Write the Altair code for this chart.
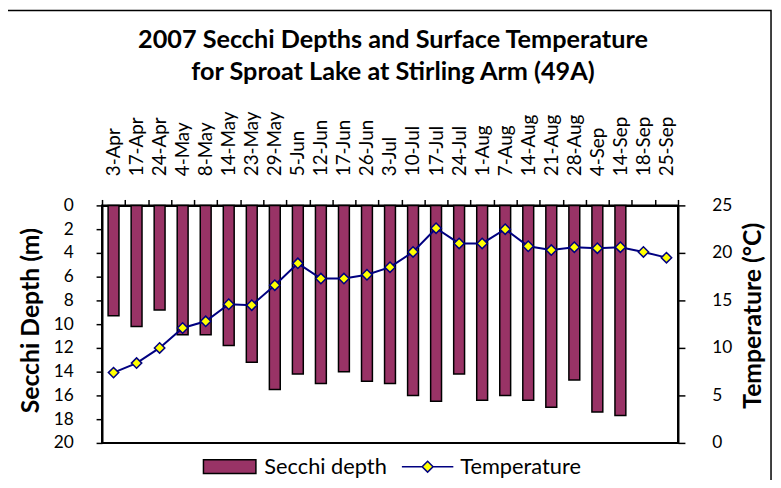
import altair as alt
import pandas as pd

dates = ["3-Apr", "17-Apr", "24-Apr", "4-May", "8-May", "14-May", "23-May", "29-May",
         "5-Jun", "12-Jun", "17-Jun", "26-Jun", "3-Jul", "10-Jul", "17-Jul", "24-Jul",
         "1-Aug", "7-Aug", "14-Aug", "21-Aug", "28-Aug", "4-Sep", "14-Sep", "18-Sep", "25-Sep"]
secchi = [9.3, 10.2, 8.8, 10.9, 10.9, 11.8, 13.2, 15.5, 14.2, 15.0, 14.0, 14.8, 15.0,
          16.0, 16.5, 14.2, 16.4, 16.0, 16.4, 17.0, 14.7, 17.4, 17.7, None, None]
temps = [7.4, 8.4, 10.0, 12.1, 12.8, 14.6, 14.5, 16.6, 18.9, 17.3, 17.3, 17.7, 18.5,
         20.1, 22.6, 21.0, 21.0, 22.5, 20.7, 20.3, 20.6, 20.5, 20.6, 20.1, 19.5]

df = pd.DataFrame({"date": dates, "depth": secchi, "temp": temps,
                   "s1": "Secchi depth", "s2": "Temperature"})

FONT = "Lato"
W, H = 582, 240

x_enc = alt.X("date:N", sort=dates, title=None,
              scale=alt.Scale(domain=dates, paddingInner=0, paddingOuter=0),
              axis=alt.Axis(orient="top", labelAngle=-90, labelFont=FONT, labelFontSize=19,
                            labelColor="black", tickBand="extent", tickSize=6, tickWidth=1.5,
                            tickColor="black", domainColor="black", domainWidth=2,
                            labelPadding=24))

bars = alt.Chart(df).mark_bar(size=11, stroke="black", strokeWidth=1.5).encode(
    x=x_enc,
    y=alt.Y("depth:Q", scale=alt.Scale(domain=[0, 20], reverse=True, nice=False),
            axis=alt.Axis(orient="left", values=list(range(0, 21, 2)), title="Secchi Depth (m)",
                          titleFont=FONT, titleFontSize=25, titleFontWeight="bold",
                          titleColor="black", titleAngle=270, titleX=-72, titleY=116,
                          titleAlign="center", titleBaseline="middle",
                          labelFont=FONT, labelFontSize=17.5, labelColor="black",
                          labelPadding=23, tickSize=6, tickWidth=1.5, tickColor="black",
                          domainColor="black", domainWidth=2, grid=False)),
    fill=alt.Fill("s1:N", scale=alt.Scale(domain=["Secchi depth"], range=["#993366"]),
                  legend=alt.Legend(title=None, orient="none", legendX=118, legendY=253,
                                    symbolType="M-2.65,-0.7H2.65V0.7H-2.65Z",
                                    symbolSize=400, symbolStrokeColor="black",
                                    symbolStrokeWidth=1.5, labelFont=FONT, labelFontSize=22,
                                    labelColor="black", labelOffset=24, padding=0)),
)

y_t = alt.Y("temp:Q", scale=alt.Scale(domain=[0, 25], nice=False),
            axis=alt.Axis(orient="right", values=list(range(0, 26, 5)), title="Temperature (°C)",
                          titleFont=FONT, titleFontSize=25, titleFontWeight="bold",
                          titleColor="black", titleAngle=270, titleX=75, titleY=111,
                          titleAlign="center", titleBaseline="middle",
                          labelFont=FONT, labelFontSize=17.5, labelColor="black",
                          labelPadding=27, tickSize=7, tickWidth=1.5, tickColor="black",
                          domainColor="black", domainWidth=2, grid=False))

line = alt.Chart(df).mark_line(color="#000080", strokeWidth=2).encode(x=x_enc, y=y_t)

points = alt.Chart(df).mark_point(shape="diamond", filled=True, fill="#FFFF00",
                                  size=110, strokeWidth=1.5, opacity=1).encode(
    x=x_enc, y=y_t,
    stroke=alt.Stroke("s2:N", scale=alt.Scale(domain=["Temperature"], range=["#000080"]),
                      legend=alt.Legend(title=None, orient="none", legendX=318, legendY=253,
                                        symbolType="M-2.6,0H-0.55M0.55,0H2.6M0,-0.55L0.55,0L0,0.55L-0.55,0Z",
                                        symbolSize=400, symbolFillColor="#FFFF00",
                                        symbolStrokeColor="#000080", symbolStrokeWidth=1.5,
                                        labelFont=FONT, labelFontSize=22, labelColor="black",
                                        labelOffset=22, padding=0)),
)

frame = alt.Chart(pd.DataFrame({"a": [0]})).mark_rect(
    filled=False, fill="transparent", stroke="black", strokeWidth=1.5).encode(
    x=alt.value(-98), x2=alt.value(676), y=alt.value(-197), y2=alt.value(300))

chart = alt.layer(bars, alt.layer(line, points)).resolve_scale(
    y="independent", fill="independent", stroke="independent")
chart = alt.layer(chart, frame).properties(
    width=W, height=H,
    title=alt.TitleParams(text=["2007 Secchi Depths and Surface Temperature",
                                "for Sproat Lake at Stirling Arm (49A)"],
                          font=FONT, fontSize=25.5, fontWeight="bold", color="black",
                          anchor="middle", lineHeight=33, offset=-77, dx=3),
    autosize=alt.AutoSizeParams(type="none"),
    padding={"left": 95, "top": 197, "right": 96, "bottom": 35},
).configure_view(stroke="black", strokeWidth=2)

chart.save("out.html", embed_options={"renderer": "svg", "actions": False})
